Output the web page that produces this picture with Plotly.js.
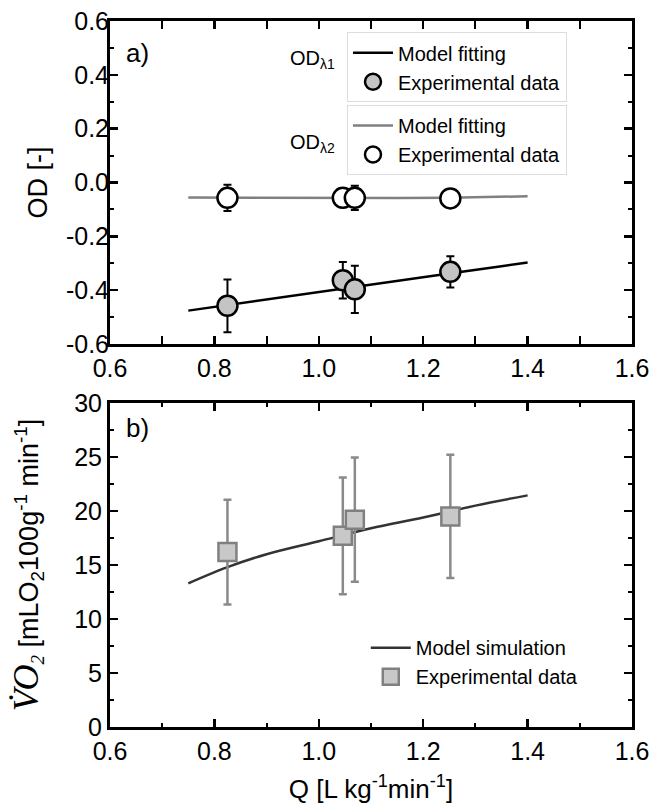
<!DOCTYPE html>
<html>
<head>
<meta charset="utf-8">
<script src="https://cdn.plot.ly/plotly-3.0.1.min.js"></script>
<style>html,body{margin:0;padding:0;background:#fff;}</style>
</head>
<body>
<div id="chart" style="width:665px;height:808px;"></div>
<script>
// ---- data ----
const qExp = [0.825, 1.046, 1.069, 1.252];
const od1Exp = [-0.458, -0.363, -0.397, -0.332];
const od1Err = [0.098, 0.068, 0.088, 0.058];
const od2Exp = [-0.057, -0.057, -0.057, -0.059];
const od2Err = [0.049, 0.035, 0.045, 0.02];

const qFit = [0.75, 0.85, 0.95, 1.05, 1.15, 1.25, 1.35, 1.4];
const od1Fit = [-0.476, -0.448, -0.421, -0.393, -0.366, -0.338, -0.311, -0.297];
const od2Fit = [-0.056, -0.057, -0.057, -0.058, -0.058, -0.057, -0.054, -0.051];

const qSim = [0.75, 0.825, 0.9, 1.0, 1.1, 1.2, 1.3, 1.4];
const vo2Sim = [13.3, 14.8, 16.0, 17.2, 18.4, 19.4, 20.5, 21.45];
const vo2Exp = [16.2, 17.7, 19.2, 19.5];
const vo2Err = [4.85, 5.4, 5.75, 5.7];

const odTicks = [-0.6, -0.4, -0.2, 0.0, 0.2, 0.4, 0.6];
const odTickText = ['-0.6', '-0.4', '-0.2', '0.0', '0.2', '0.4', '0.6'];

const FONT = 'Liberation Sans, Arial, sans-serif';

const traces = [
  {x: qFit, y: od2Fit, type: 'scatter', mode: 'lines', name: 'Model fitting',
   line: {color: '#808080', width: 2.5}, xaxis: 'x', yaxis: 'y3', legend: 'legend2'},
  {x: qExp, y: od2Exp, type: 'scatter', mode: 'markers', name: 'Experimental data',
   marker: {symbol: 'circle', size: 20, color: '#ffffff', line: {color: '#000', width: 2.5}},
   error_y: {type: 'data', array: od2Err, visible: true, color: '#000', thickness: 2, width: 4},
   xaxis: 'x', yaxis: 'y3', legend: 'legend2'},
  {x: qFit, y: od1Fit, type: 'scatter', mode: 'lines', name: 'Model fitting',
   line: {color: '#000000', width: 2.5}, xaxis: 'x', yaxis: 'y', legend: 'legend'},
  {x: qExp, y: od1Exp, type: 'scatter', mode: 'markers', name: 'Experimental data',
   marker: {symbol: 'circle', size: 20, color: '#c4c4c4', line: {color: '#000', width: 2.5}},
   error_y: {type: 'data', array: od1Err, visible: true, color: '#000', thickness: 2, width: 4},
   xaxis: 'x', yaxis: 'y', legend: 'legend'},
  {x: qSim, y: vo2Sim, type: 'scatter', mode: 'lines', name: 'Model simulation',
   line: {color: '#333333', width: 2.5, shape: 'spline'}, xaxis: 'x2', yaxis: 'y2', legend: 'legend3'},
  {x: qExp, y: vo2Exp, type: 'scatter', mode: 'markers', name: 'Experimental data',
   marker: {symbol: 'square', size: 18, color: '#c8c8c8', line: {color: '#808080', width: 2.5}},
   error_y: {type: 'data', array: vo2Err, visible: true, color: '#8a8a8a', thickness: 2.5, width: 4},
   xaxis: 'x2', yaxis: 'y2', legend: 'legend3'}
];

function minorTicks(step) {
  return {dtick: step, ticks: 'inside', ticklen: 4, tickwidth: 2, tickcolor: '#000', showgrid: false};
}
function axisBase(extra) {
  return Object.assign({
    showline: true, linewidth: 3, linecolor: '#000', mirror: 'allticks',
    ticks: 'inside', ticklen: 8, tickwidth: 2.5, tickcolor: '#000',
    showgrid: false, zeroline: false,
    tickfont: {family: FONT, size: 25, color: '#000'}
  }, extra);
}

const layout = {
  width: 665, height: 808,
  margin: {l: 110, r: 33, t: 21, b: 81},
  paper_bgcolor: '#fff', plot_bgcolor: '#fff',
  font: {family: FONT, color: '#000'},
  xaxis: axisBase({anchor: 'y', domain: [0, 1], range: [0.6, 1.6],
    tick0: 0.6, dtick: 0.2, tickformat: '.1f', minor: minorTicks(0.1)}),
  // tick marks of the OD axis
  yaxis: axisBase({anchor: 'x', domain: [0.5425, 1], range: [-0.6, 0.6],
    tick0: -0.6, dtick: 0.2, showticklabels: false, minor: minorTicks(0.1)}),
  // labels of the OD axis (hyphen minus as in the reference), same scale as yaxis
  yaxis3: {overlaying: 'y', anchor: 'x', side: 'left', range: [-0.6, 0.6],
    tickmode: 'array', tickvals: odTicks, ticktext: odTickText,
    ticks: '', showline: false, showgrid: false, zeroline: false,
    tickfont: {family: FONT, size: 25, color: '#000'},
    title: {text: 'OD [-]', font: {family: FONT, size: 27, color: '#000'}, standoff: 10}},
  xaxis2: axisBase({anchor: 'y2', domain: [0, 1], range: [0.6, 1.6],
    tick0: 0.6, dtick: 0.2, tickformat: '.1f', minor: minorTicks(0.1),
    title: {text: 'Q [L kg<sup>-1</sup>min<sup>-1</sup>]', font: {family: FONT, size: 26, color: '#000'}, standoff: 16}}),
  yaxis2: axisBase({anchor: 'x2', domain: [0, 0.4589], range: [0, 30],
    tick0: 0, dtick: 5, minor: minorTicks(2.5),
    title: {text: '<span style="font-family:Liberation Serif,Times New Roman,serif;font-size:36px"><i>V\u0307O</i></span><sub><span style="font-family:Liberation Serif,Times New Roman,serif"><i>2</i></span></sub> [mLO<sub>2</sub>100g<sup>-1</sup> min<sup>-1</sup>]',
      font: {family: FONT, size: 27, color: '#000'}, standoff: 28}}),
  showlegend: true,
  legend: {x: 0.454, y: 0.984, xanchor: 'left', yanchor: 'top', bgcolor: 'rgba(255,255,255,0)',
    bordercolor: '#dddddd', borderwidth: 1, font: {family: FONT, size: 20, color: '#000'},
    itemwidth: 40, tracegroupgap: 0},
  legend2: {x: 0.454, y: 0.881, xanchor: 'left', yanchor: 'top', bgcolor: 'rgba(255,255,255,0)',
    bordercolor: '#dddddd', borderwidth: 1, font: {family: FONT, size: 20, color: '#000'},
    itemwidth: 40, tracegroupgap: 0},
  legend3: {x: 0.49, y: 0.14, xanchor: 'left', yanchor: 'top', bgcolor: 'rgba(255,255,255,0)',
    borderwidth: 0, font: {family: FONT, size: 20, color: '#000'},
    itemwidth: 40, tracegroupgap: 0},
  annotations: [
    {xref: 'paper', yref: 'paper', x: 0.052, y: 0.955, text: 'a)', showarrow: false,
     xanchor: 'center', yanchor: 'middle', font: {family: FONT, size: 26, color: '#000'}},
    {xref: 'paper', yref: 'paper', x: 0.052, y: 0.4235, text: 'b)', showarrow: false,
     xanchor: 'center', yanchor: 'middle', font: {family: FONT, size: 26, color: '#000'}},
    {xref: 'paper', yref: 'paper', x: 0.387, y: 0.945, text: 'OD<sub>\u03bb1</sub>', showarrow: false,
     xanchor: 'center', yanchor: 'middle', font: {family: FONT, size: 20, color: '#000'}},
    {xref: 'paper', yref: 'paper', x: 0.387, y: 0.827, text: 'OD<sub>\u03bb2</sub>', showarrow: false,
     xanchor: 'center', yanchor: 'middle', font: {family: FONT, size: 20, color: '#000'}}
  ]
};

Plotly.newPlot('chart', traces, layout, {displayModeBar: false, staticPlot: true});
</script>
</body>
</html>
